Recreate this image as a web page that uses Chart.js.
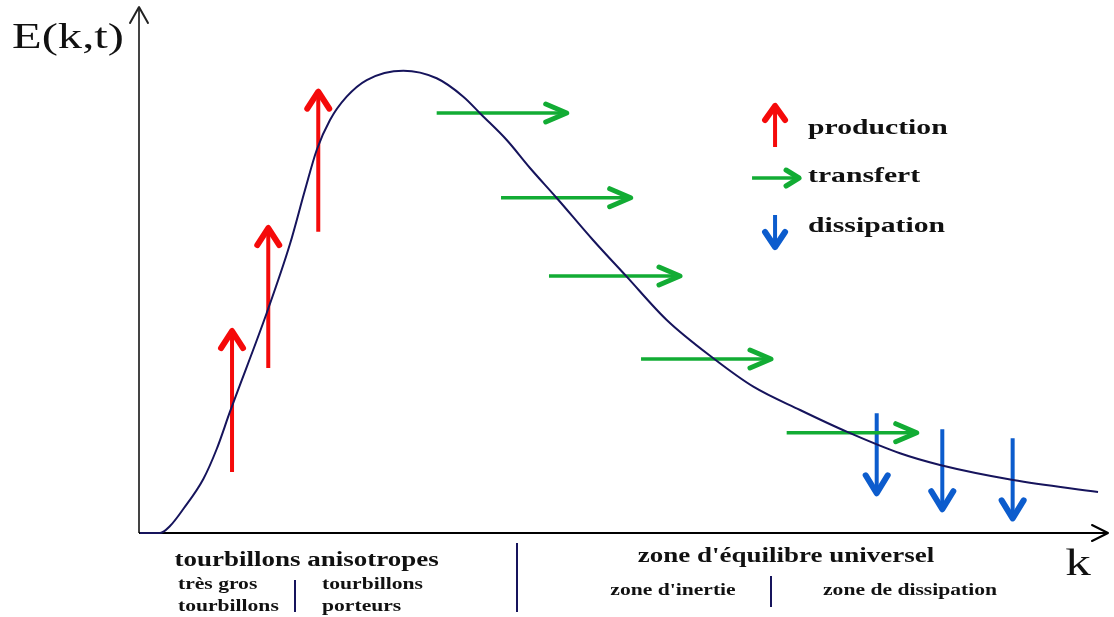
<!DOCTYPE html>
<html>
<head>
<meta charset="utf-8">
<script src="https://cdn.jsdelivr.net/npm/chart.js@4"></script>
<style>
  body { margin: 0; background: #fff; }
</style>
</head>
<body>
<canvas id="spectre" width="1114" height="617"></canvas>
<script>
// courbe E(k,t), unites arbitraires (k et E de 0 a 100)
const curveK = [0.1, 2.17, 3.2, 4.57, 6.64, 8.02, 9.39, 13.18, 15.58, 17.13, 18.34, 19.71, 21.43, 23.5, 27.28, 30.72, 33.47, 35.37, 37.95, 40.35, 43.11, 46.85, 50.33, 54.46, 59.27, 63.4, 68.22, 73.03, 78.53, 82.66, 90.2, 98.97];
const curveE = [0, 0, 1.33, 4.56, 10.27, 15.97, 23.06, 41.83, 54.94, 65.21, 72.81, 78.52, 82.95, 86.12, 87.89, 86.45, 82.95, 79.47, 74.71, 69.39, 63.69, 55.7, 48.73, 40.49, 33.21, 27.81, 23.38, 19.26, 15.15, 12.93, 10.08, 7.79];

// fleches production (verticales, vers le haut)
const productionK = [9.6, 13.34, 18.5];
const productionFrom = [11.6, 31.37, 57.28];
const productionTo = [38.4, 57.98, 83.9];

// fleches transfert (horizontales)
const transfertE = [79.85, 63.75, 48.86, 33.08, 19.07];
const transfertFrom = [30.72, 37.36, 42.31, 51.81, 66.84];
const transfertTo = [44.14, 50.74, 55.83, 65.22, 80.26];

// fleches dissipation (vers le bas)
const dissipationK = [76.13, 82.9, 90.16];
const dissipationFrom = [22.76, 19.71, 18.0];
const dissipationTo = [7.55, 4.51, 2.79];

// legende et zones
const legendLabels = ["production", "transfert", "dissipation"];
const zoneTitles = ["tourbillons anisotropes", "zone d'équilibre universel"];
const subZones = [["très gros", "tourbillons"], ["tourbillons", "porteurs"], ["zone d'inertie"], ["zone de dissipation"]];
const zoneLimit = 39.01;
const subZoneLimits = [16.1, 65.22];

const ROUGE = "rgb(245, 10, 10)";
const VERT = "rgb(18, 172, 52)";
const BLEU = "rgb(12, 92, 205)";
const MARINE = "rgb(22, 20, 92)";
const STRETCH = 1.35; // le dessin d'origine est etire en largeur

const fleche = (pts, color, width, head) => ({
  data: pts,
  borderColor: color,
  borderWidth: width,
  pointRadius: 0,
  showLine: true,
  clip: false,
  head: head,
});

const datasets = [
  {
    label: "E(k,t)",
    data: curveK.map((k, i) => ({ x: k, y: curveE[i] })),
    borderColor: MARINE,
    borderWidth: 2,
    pointRadius: 0,
    showLine: true,
    cubicInterpolationMode: "monotone",
    clip: false,
  },
];

productionK.forEach((k, i) => {
  datasets.push(fleche([{ x: k, y: productionFrom[i] }, { x: k, y: productionTo[i] }], ROUGE, 4, { len: 17, half: 11, w: 6 }));
});
transfertE.forEach((e, i) => {
  datasets.push(fleche([{ x: transfertFrom[i], y: e }, { x: transfertTo[i], y: e }], VERT, 3.5, { len: 21, half: 9, w: 5 }));
});
dissipationK.forEach((k, i) => {
  datasets.push(fleche([{ x: k, y: dissipationFrom[i] }, { x: k, y: dissipationTo[i] }], BLEU, 4, { len: 18, half: 11, w: 6 }));
});

const pointe = (ctx, x0, y0, x1, y1, len, half, w, color) => {
  const a = Math.atan2(y1 - y0, x1 - x0);
  const c = Math.cos(a), s = Math.sin(a);
  ctx.save();
  ctx.strokeStyle = color;
  ctx.lineWidth = w;
  ctx.lineCap = "round";
  ctx.lineJoin = "round";
  ctx.beginPath();
  ctx.moveTo(x1 - len * c - half * s, y1 - len * s + half * c);
  ctx.lineTo(x1, y1);
  ctx.lineTo(x1 - len * c + half * s, y1 - len * s - half * c);
  ctx.stroke();
  ctx.restore();
};

const texte = (ctx, txt, x, y, font, align) => {
  ctx.save();
  ctx.font = font;
  ctx.fillStyle = "#111";
  ctx.textBaseline = "middle";
  ctx.textAlign = align || "center";
  ctx.translate(x, y);
  ctx.scale(STRETCH, 1);
  ctx.fillText(txt, 0, 0);
  ctx.restore();
};

const trait = (ctx, x, y0, y1) => {
  ctx.save();
  ctx.strokeStyle = MARINE;
  ctx.lineWidth = 2;
  ctx.beginPath();
  ctx.moveTo(x, y0);
  ctx.lineTo(x, y1);
  ctx.stroke();
  ctx.restore();
};

const dessinSchema = {
  id: "dessinSchema",
  beforeDatasetsDraw(chart) {
    const { ctx, chartArea: ca } = chart;
    // axes
    ctx.save();
    ctx.lineWidth = 2;
    ctx.strokeStyle = "#444";
    ctx.beginPath();
    ctx.moveTo(ca.left, ca.bottom);
    ctx.lineTo(ca.left, ca.top);
    ctx.stroke();
    ctx.strokeStyle = "#000";
    ctx.beginPath();
    ctx.moveTo(ca.left, ca.bottom);
    ctx.lineTo(ca.right, ca.bottom);
    ctx.stroke();
    ctx.restore();
    pointe(ctx, ca.left, ca.bottom, ca.left, ca.top, 16, 9, 2, "#222");
    pointe(ctx, ca.left, ca.bottom, ca.right, ca.bottom, 16, 8, 2, "#000");
  },
  afterDatasetsDraw(chart) {
    chart.data.datasets.forEach((ds, i) => {
      if (!ds.head) return;
      const pts = chart.getDatasetMeta(i).data;
      const a = pts[pts.length - 2], b = pts[pts.length - 1];
      pointe(chart.ctx, a.x, a.y, b.x, b.y, ds.head.len, ds.head.half, ds.head.w, ds.borderColor);
    });
  },
  afterDraw(chart) {
    const { ctx, chartArea: ca, scales } = chart;
    const xs = scales.x, ys = scales.y;
    const b = ca.bottom;

    // titres des axes
    texte(ctx, "E(k,t)", 12, 39, "36px 'Liberation Serif'", "left");
    texte(ctx, "k", xs.getPixelForValue(96.9), b + 32, "38px 'Liberation Serif'");

    // legende
    const lx = xs.getPixelForValue(65.64);
    const tx = xs.getPixelForValue(69.04);
    const rows = [77.0, 67.87, 58.37].map((e) => ys.getPixelForValue(e));
    const lf = "bold 22px 'Liberation Serif'";

    ctx.save();
    ctx.lineCap = "butt";
    ctx.lineWidth = 4;
    ctx.strokeStyle = ROUGE;
    ctx.beginPath(); ctx.moveTo(lx, rows[0] + 19); ctx.lineTo(lx, rows[0] - 21); ctx.stroke();
    ctx.lineWidth = 3.5;
    ctx.strokeStyle = VERT;
    ctx.beginPath(); ctx.moveTo(lx - 23, rows[1] + 2); ctx.lineTo(lx + 23, rows[1] + 2); ctx.stroke();
    ctx.lineWidth = 4;
    ctx.strokeStyle = BLEU;
    ctx.beginPath(); ctx.moveTo(lx, rows[2] - 11); ctx.lineTo(lx, rows[2] + 20); ctx.stroke();
    ctx.restore();
    pointe(ctx, lx, rows[0] + 19, lx, rows[0] - 22, 14, 10, 6, ROUGE);
    pointe(ctx, lx - 23, rows[1] + 2, lx + 24, rows[1] + 2, 13, 8, 5, VERT);
    pointe(ctx, lx, rows[2] - 11, lx, rows[2] + 21, 15, 10, 6, BLEU);
    legendLabels.forEach((l, i) => texte(ctx, l, tx, rows[i], lf, "left"));

    // zones sous l'axe des k
    const tf = "bold 20px 'Liberation Serif'";
    const sf = "bold 16px 'Liberation Serif'";
    texte(ctx, zoneTitles[0], xs.getPixelForValue(17.29), b + 28, tf);
    texte(ctx, zoneTitles[1], xs.getPixelForValue(66.77), b + 24, tf);
    trait(ctx, xs.getPixelForValue(zoneLimit), b + 10, b + 79);

    texte(ctx, subZones[0][0], xs.getPixelForValue(4.02), b + 52, sf, "left");
    texte(ctx, subZones[0][1], xs.getPixelForValue(4.02), b + 74, sf, "left");
    texte(ctx, subZones[1][0], xs.getPixelForValue(18.89), b + 52, sf, "left");
    texte(ctx, subZones[1][1], xs.getPixelForValue(18.89), b + 74, sf, "left");
    trait(ctx, xs.getPixelForValue(subZoneLimits[0]), b + 47, b + 79);

    texte(ctx, subZones[2][0], xs.getPixelForValue(55.11), b + 58, sf);
    texte(ctx, subZones[3][0], xs.getPixelForValue(79.57), b + 58, sf);
    trait(ctx, xs.getPixelForValue(subZoneLimits[1]), b + 43, b + 74);
  },
};

new Chart(document.getElementById("spectre"), {
  type: "scatter",
  data: { datasets },
  options: {
    responsive: false,
    animation: false,
    devicePixelRatio: 1,
    layout: { padding: { left: 139, right: 6, top: 7, bottom: 84 } },
    scales: {
      x: { type: "linear", min: 0, max: 100, display: false },
      y: { type: "linear", min: 0, max: 100, display: false },
    },
    plugins: {
      legend: { display: false },
      tooltip: { enabled: false },
    },
  },
  plugins: [dessinSchema],
});
</script>
</body>
</html>
